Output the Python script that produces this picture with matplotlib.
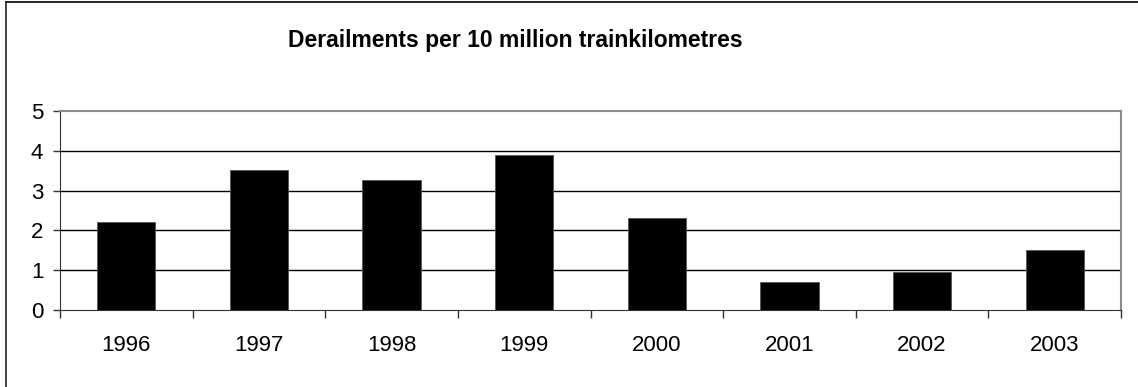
import numpy as np
import matplotlib.pyplot as plt
from matplotlib.lines import Line2D

# Derailments per 10 million train kilometres, by year
years = ['1996', '1997', '1998', '1999', '2000', '2001', '2002', '2003']
derailments = [2.22, 3.52, 3.27, 3.90, 2.30, 0.71, 0.95, 1.52]

plt.rcParams['font.family'] = ['Liberation Sans', 'DejaVu Sans']

W, H = 1138, 387
fig = plt.figure(figsize=(W / 100, H / 100), dpi=100)
fig.patch.set_facecolor('white')

# outer chart frame: only the top and left edges fall inside the image
fx, fy = 5.5 / W, 1 - 1.5 / H
fig.lines.append(Line2D([fx, 1.0], [fy, fy], transform=fig.transFigure,
                        color='black', linewidth=1.2))
fig.lines.append(Line2D([fx, fx], [0.0, fy], transform=fig.transFigure,
                        color='#222222', linewidth=1.2))

ax = fig.add_axes([60 / W, 1 - 310 / H, (1121 - 60) / W, (310 - 111) / H])

x = np.arange(len(years))
ax.bar(x, derailments, width=0.44, color='black', edgecolor='#555555',
       linewidth=0.6, zorder=3)

ax.set_xlim(-0.5, len(years) - 0.5)
ax.set_ylim(0, 5)
ax.set_yticks(range(0, 6))
ax.set_xticks(x)
ax.set_xticklabels(years)
ax.set_xticks(np.arange(-0.5, len(years)), minor=True)

ax.tick_params(axis='x', which='major', length=0, pad=18, labelsize=16)
ax.tick_params(axis='x', which='minor', length=6, width=1, color='#333333',
               direction='out')
ax.tick_params(axis='y', length=5, width=1, color='#333333', pad=7,
               labelsize=16)

for v in range(1, 5):
    ax.axhline(v, color='black', linewidth=1.0, zorder=1)

ax.spines['top'].set_color('#8c8c8c')
ax.spines['right'].set_color('#8c8c8c')
ax.spines['top'].set_linewidth(1.5)
ax.spines['right'].set_linewidth(1.5)
ax.spines['left'].set_color('#333333')
ax.spines['bottom'].set_color('#333333')

fig.text(515 / W, 1 - 41 / H, 'Derailments per 10 million trainkilometres',
         ha='center', va='center', fontsize=16.5, fontweight='bold')

fig.savefig('out.png', dpi=100)
